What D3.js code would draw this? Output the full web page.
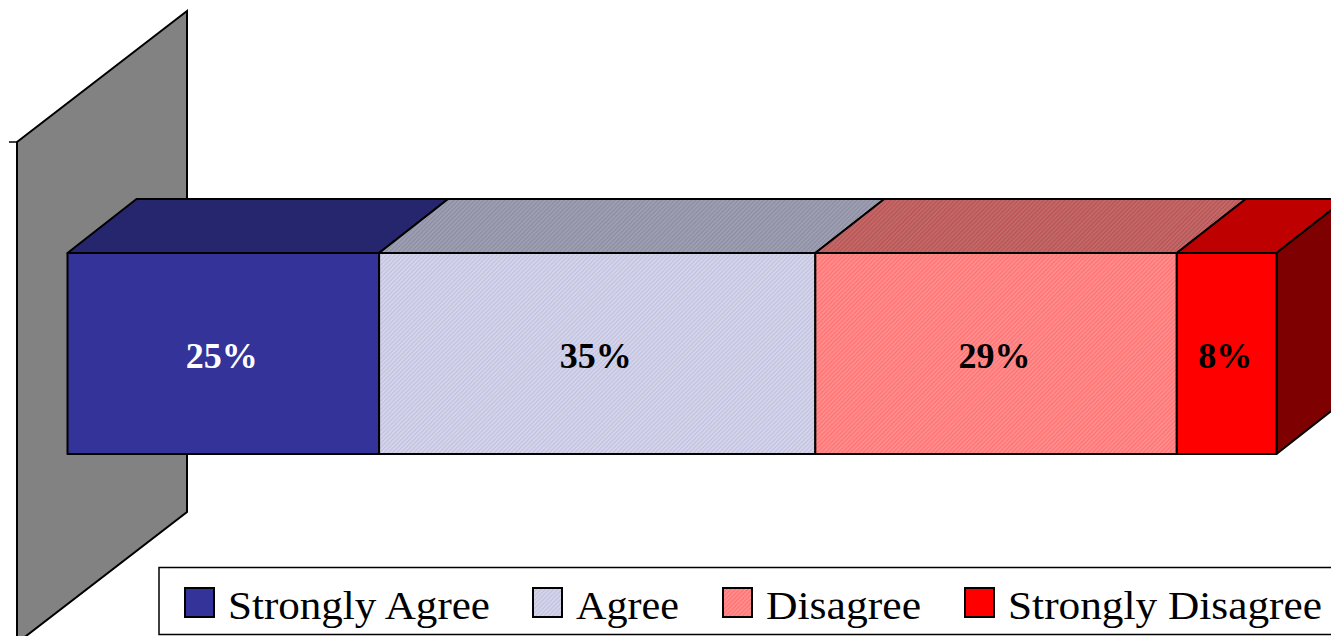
<!DOCTYPE html>
<html>
<head>
<meta charset="utf-8">
<script src="https://cdn.jsdelivr.net/npm/d3@7"></script>
<style>
  html, body { margin: 0; padding: 0; background: #fff; overflow: hidden; }
  svg { display: block; }
</style>
</head>
<body>
<div id="chart"></div>
<script>
// Data
const categories = ["Strongly Agree", "Agree", "Disagree", "Strongly Disagree"];
const percents = [25, 35, 29, 8];

// Colours per category: front face, top face
const frontColors = ["#333399", "#d6d6eb", "#ff8f8f", "#ff0000"];
const topColors = ["#26266f", "#a0a0b4", "#c46a6a", "#bf0000"];
const hatchInk = [null, "#c0c0e0", "#ff7070", null];
const topHatchInk = [null, "#8c8ca0", "#b85252", null];
const labelColors = ["#fff", "#000", "#000", "#000"];

// Dimensions
const width = 1331;
const height = 636;
const bar = { left: 67.5, right: 1276.5, top: 253, bottom: 454, dx: 69, dy: -54 };
const wall = { x: 17, dx: 170, top: 142, bottom: 643, dy: -131 };

const svg = d3.select("#chart").append("svg")
  .attr("width", width)
  .attr("height", height);

const defs = svg.append("defs");

// fine diagonal hatch, used on Agree and Disagree
function addHatch(id, base, ink) {
  const p = defs.append("pattern")
    .attr("id", id)
    .attr("width", 3)
    .attr("height", 3)
    .attr("patternUnits", "userSpaceOnUse")
    .attr("patternTransform", "rotate(45)");
  p.append("rect").attr("width", 3).attr("height", 3).attr("fill", base);
  p.append("rect").attr("width", 1.2).attr("height", 3).attr("fill", ink);
}

function fillFor(i, colors, prefix) {
  if (!hatchInk[i]) return colors[i];
  return `url(#${prefix}${i})`;
}

categories.forEach((c, i) => {
  if (!hatchInk[i]) return;
  addHatch(`front${i}`, frontColors[i], hatchInk[i]);
  addHatch(`top${i}`, topColors[i], topHatchInk[i]);
});

// Scale
const cumulative = d3.cumsum(percents);
const x = d3.scaleLinear()
  .domain([0, d3.sum(percents)])
  .range([bar.left, bar.right]);

const line = d3.line();

// Back wall
svg.append("path")
  .attr("d", line([
    [wall.x, wall.top],
    [wall.x + wall.dx, wall.top + wall.dy],
    [wall.x + wall.dx, wall.bottom + wall.dy],
    [wall.x, wall.bottom]
  ]) + "Z")
  .attr("fill", "#828282")
  .attr("stroke", "#000")
  .attr("stroke-width", 2);

// tick on the category axis
svg.append("line")
  .attr("x1", 9).attr("x2", wall.x)
  .attr("y1", wall.top).attr("y2", wall.top)
  .attr("stroke", "#000")
  .attr("stroke-width", 1.5);

const segments = percents.map((p, i) => ({
  i,
  p,
  x0: x(cumulative[i] - p),
  x1: x(cumulative[i])
}));

const g = svg.append("g")
  .attr("stroke", "#000")
  .attr("stroke-width", 2)
  .attr("stroke-linejoin", "round");

// Top faces
g.selectAll(".top")
  .data(segments)
  .enter()
  .append("path")
  .attr("class", "top")
  .attr("d", (d) => line([
    [d.x0, bar.top],
    [d.x0 + bar.dx, bar.top + bar.dy],
    [d.x1 + bar.dx, bar.top + bar.dy],
    [d.x1, bar.top]
  ]) + "Z")
  .attr("fill", (d) => fillFor(d.i, topColors, "top"));

// Right end of the last segment
g.append("path")
  .attr("d", line([
    [bar.right, bar.top],
    [bar.right + bar.dx, bar.top + bar.dy],
    [bar.right + bar.dx, bar.bottom + bar.dy],
    [bar.right, bar.bottom]
  ]) + "Z")
  .attr("fill", "#7f0000");

// Front faces
g.selectAll(".front")
  .data(segments)
  .enter()
  .append("rect")
  .attr("class", "front")
  .attr("x", (d) => d.x0)
  .attr("y", bar.top)
  .attr("width", (d) => d.x1 - d.x0)
  .attr("height", bar.bottom - bar.top)
  .attr("fill", (d) => fillFor(d.i, frontColors, "front"));

// Value labels
svg.selectAll(".value")
  .data(segments)
  .enter()
  .append("text")
  .attr("class", "value")
  .attr("x", (d) => (d.x0 + d.x1) / 2 - 1.5)
  .attr("y", 368)
  .attr("text-anchor", "middle")
  .attr("font-family", "'Liberation Serif', serif")
  .attr("font-weight", "bold")
  .attr("font-size", 36)
  .attr("fill", (d) => labelColors[d.i])
  .text((d) => `${d.p}%`);

// Legend
const legendX = [185, 533, 723, 965];
const legendTextWidths = [262, 103, 155, 314];

svg.append("rect")
  .attr("x", 159)
  .attr("y", 567.5)
  .attr("width", 1180)
  .attr("height", 67)
  .attr("fill", "#fff")
  .attr("stroke", "#000")
  .attr("stroke-width", 1.5);

const legend = svg.selectAll(".legend")
  .data(categories)
  .enter()
  .append("g")
  .attr("class", "legend")
  .attr("transform", (d, i) => `translate(${legendX[i]},588)`);

legend.append("rect")
  .attr("width", 29)
  .attr("height", 29)
  .attr("fill", (d, i) => fillFor(i, frontColors, "front"))
  .attr("stroke", "#000")
  .attr("stroke-width", 2);

legend.append("text")
  .attr("x", 43)
  .attr("y", 31)
  .attr("font-family", "'Liberation Serif', serif")
  .attr("font-size", 40)
  .attr("textLength", (d, i) => legendTextWidths[i])
  .attr("lengthAdjust", "spacingAndGlyphs")
  .attr("fill", "#000")
  .text((d) => d);
</script>
</body>
</html>
